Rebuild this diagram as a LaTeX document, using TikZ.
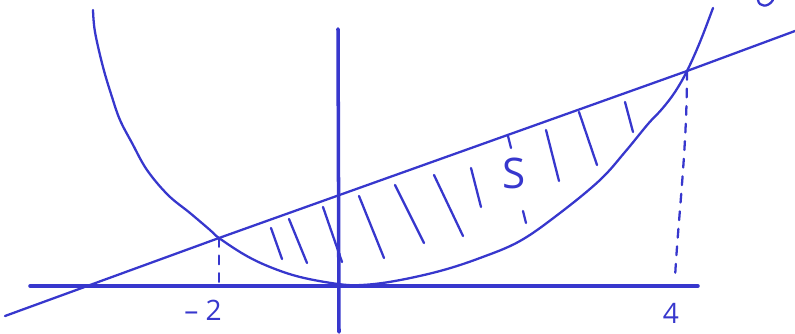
\documentclass[tikz,border=0pt]{standalone}
\usepackage{fontspec}
\setmainfont{Open Sans}
\usepackage{xcolor}
\usepackage{tikz}
\usetikzlibrary{positioning}

\definecolor{pen}{RGB}{55,55,205}

\begin{document}
\begin{tikzpicture}[x=0.02cm, y=-0.02cm, pen, line cap=round, line join=round,
        axis/.style={line width=2pt},
        curve/.style={line width=1.3pt},
        hatch/.style={line width=1.3pt},
        drop/.style={line width=1.3pt, dash pattern=on 5pt off 5pt},
        lab/.style={text=pen, inner sep=0pt}]
        \useasboundingbox (0,0) rectangle (795,334);

        % points where line and parabola meet
        \coordinate (A) at (219,238);
        \coordinate (B) at (687,71);
        \coordinate (Afoot) at (219,282);
        \coordinate (Bfoot) at (675,278);

        % axes
        \draw[axis] (30,286) -- (698,286);
        \draw[axis] (338,29) -- (339,332);

        % line
        \draw[curve] (5,316) -- (A) -- (B) -- (795,31);

        % parabola
        \draw[curve] plot[smooth, tension=0.6] coordinates {(93,10) (95,32) (103,67)
            (112,97) (120,120) (132,143) (147,170) (168,195) (190,213)
            (210,230) (A) (245,255) (270,267)
            (300,277) (338,284) (362,285) (395,281) (440,271) (480,258)
            (520,241) (560,213) (600,180) (625,152) (648,124) (662,109)
            (675,92) (B) (700,42) (713,8)};

        % cut off label, top right
        \draw[curve] (758,0) .. controls (759,7) and (768,8) .. (773,0);

        % dropped lines
        \draw[drop] (A) -- (Afoot);
        \draw[drop] (B) .. controls (687,150) and (678,220) .. (Bfoot);

        % hatching of S
        \foreach \ax/\ay/\bx/\by in {271/228/282/259, 289/219/307/263,
                323/207/342/262, 359/196/384/258, 395/185/424/243,
                434/175/463/236, 471/168/481/207, 546/130/559/181,
                579/112/597/165, 625/102/633/132, 508/136/511/148,
                523/211/526/223}
            \draw[hatch] (\ax,\ay) -- (\bx,\by);

        % labels
        \node[lab, font=\fontsize{24}{24}\selectfont] (S) at (514,173) {S};
        \node[lab, font=\fontsize{16}{16}\selectfont] (m2) at (203,310) {– 2};
        \node[lab, font=\fontsize{16}{16}\selectfont] (four) at (671,313) {4};

    \end{tikzpicture}
\end{document}
